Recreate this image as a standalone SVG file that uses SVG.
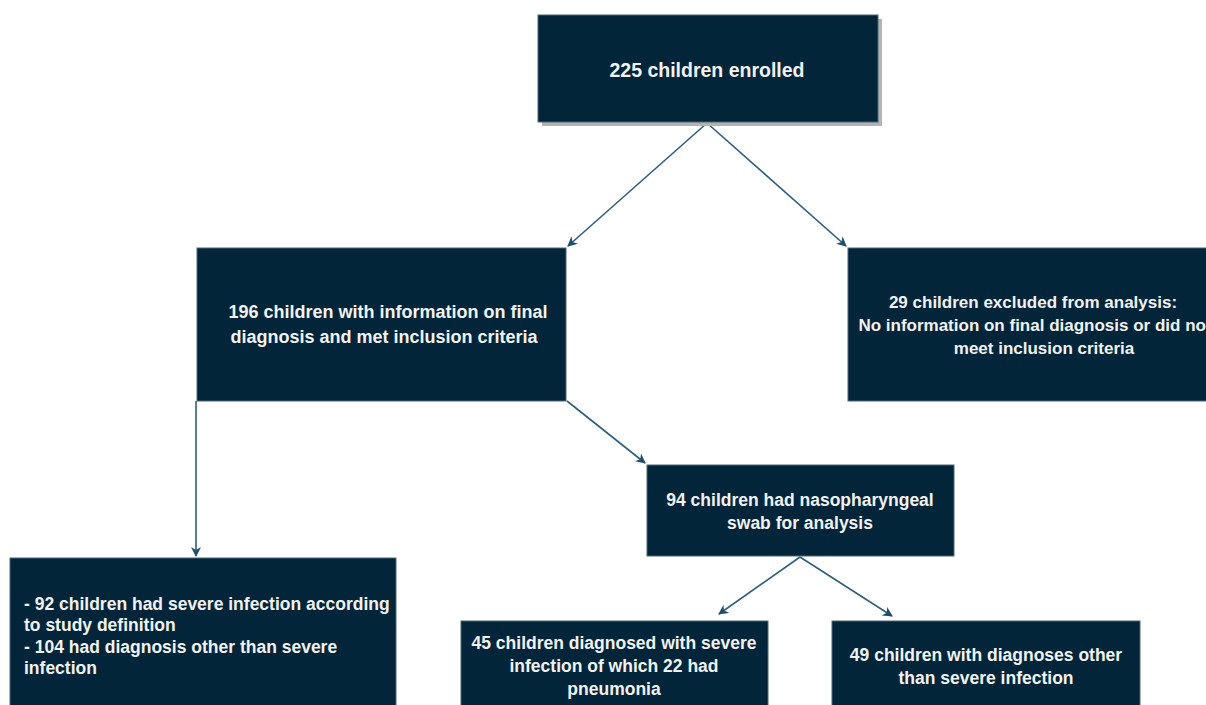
<svg xmlns="http://www.w3.org/2000/svg" width="1206" height="705" viewBox="0 0 1206 705">
<style>
.box{fill:#03253a;stroke:#4d6677;stroke-width:1}
.t{font-family:"Liberation Sans",Arial,sans-serif;font-weight:bold;font-size:17.5px;fill:#f2f2f2;text-anchor:middle}
.tl{font-family:"Liberation Sans",Arial,sans-serif;font-weight:bold;font-size:17.5px;fill:#f2f2f2}
.c{stroke:#2f5f7c;stroke-width:1.6;fill:none;marker-end:url(#ah)}
</style>
<defs>
<marker id="ah" viewBox="0 0 10 10" refX="9" refY="5" markerWidth="10" markerHeight="10" markerUnits="userSpaceOnUse" orient="auto">
<path d="M0,0 L10,5 L0,10 L3,5 z" fill="#1f4f6c"/>
</marker>
</defs>
<rect width="1206" height="705" fill="#ffffff"/>
<g id="connectors">
<line class="c" x1="707" y1="123" x2="568" y2="246"/>
<line class="c" x1="707" y1="123" x2="846" y2="246"/>
<line class="c" x1="196" y1="401" x2="196" y2="556"/>
<line class="c" x1="567" y1="401" x2="645" y2="463"/>
<line class="c" x1="800" y1="557" x2="719" y2="614"/>
<line class="c" x1="800" y1="557" x2="892" y2="616"/>
</g>
<g id="n1">
<rect x="542" y="19" width="340" height="107" fill="#b3b3b3"/>
<rect class="box" x="538" y="15" width="340" height="107"/>
<text class="t" x="707" y="77" style="font-size:19.5px">225 children enrolled</text>
</g>
<g id="n2">
<rect class="box" x="197" y="248" width="369" height="153"/>
<text class="t" x="388" y="318" style="font-size:18px">196 children with information on final</text>
<text class="t" x="384" y="343" style="font-size:18px">diagnosis and met inclusion criteria</text>
</g>
<g id="n3">
<rect class="box" x="848" y="248" width="370" height="153"/>
<text class="t" x="1033" y="308" style="font-size:17px">29 children excluded from analysis:</text>
<text class="t" x="1035" y="331" style="font-size:17px">No information on final diagnosis or did not</text>
<text class="t" x="1044" y="354" style="font-size:17px">meet inclusion criteria</text>
</g>
<g id="n4">
<rect class="box" x="10" y="558" width="386" height="160"/>
<text class="tl" x="24" y="610"> - 92 children had severe infection according</text>
<text class="tl" x="24" y="631">to study definition</text>
<text class="tl" x="24" y="653">- 104 had diagnosis other than severe</text>
<text class="tl" x="24" y="674">infection</text>
</g>
<g id="n5">
<rect class="box" x="647" y="465" width="307" height="91"/>
<text class="t" x="800" y="506">94 children had nasopharyngeal</text>
<text class="t" x="800" y="529">swab for analysis</text>
</g>
<g id="n6">
<rect class="box" x="461" y="621" width="307" height="100"/>
<text class="t" x="614" y="649">45 children diagnosed with severe</text>
<text class="t" x="614" y="672">infection of which 22 had</text>
<text class="t" x="614" y="695">pneumonia</text>
</g>
<g id="n7">
<rect class="box" x="832" y="621" width="308" height="100"/>
<text class="t" x="986" y="661">49 children with diagnoses other</text>
<text class="t" x="986" y="684">than severe infection</text>
</g>
</svg>
